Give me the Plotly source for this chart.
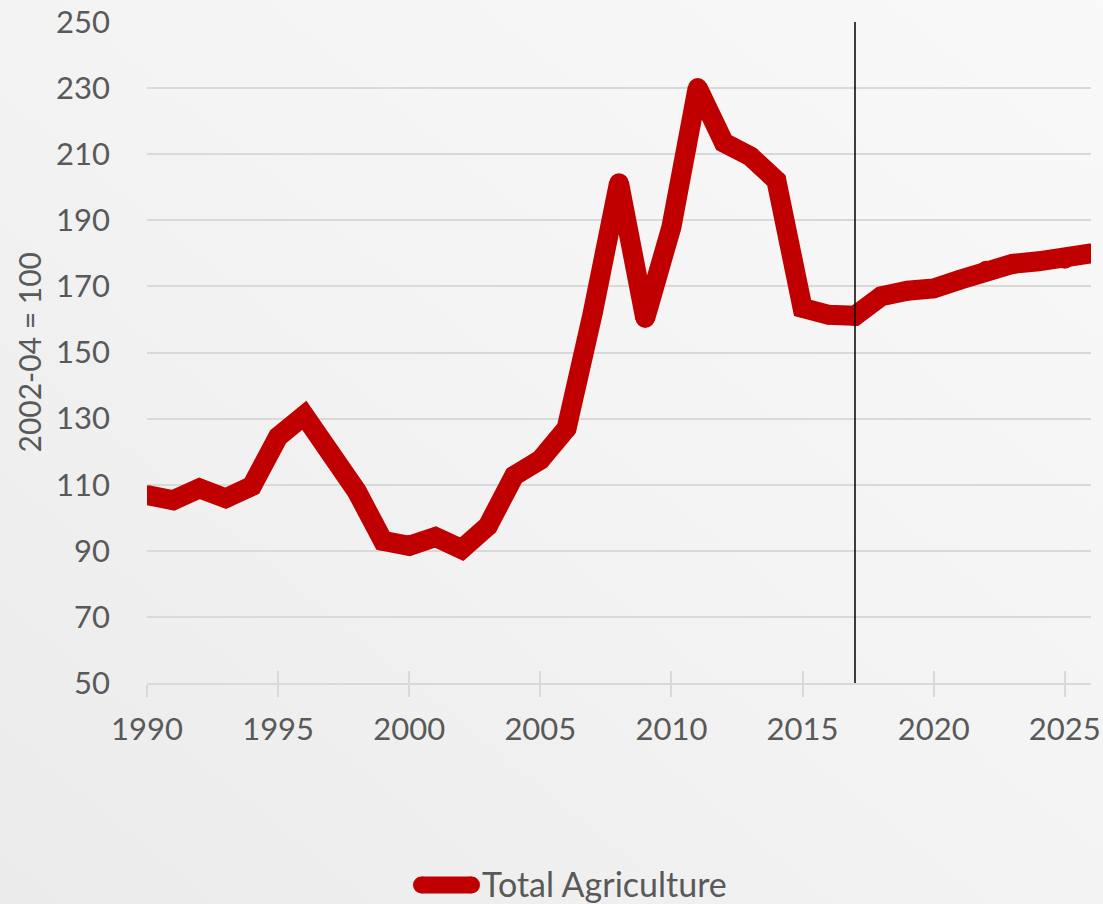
import plotly.graph_objects as go

years = list(range(1990, 2027))
total_agriculture = [106.9, 105.3, 108.9, 105.9, 109.6, 124.5, 131.0, 119.5, 108.0, 93.0,
                     91.5, 94.2, 90.5, 97.5, 112.7, 117.5, 127.0, 162.0, 201.3, 160.4,
                     188.0, 230.1, 213.5, 209.4, 202.1, 163.5, 161.4, 161.1, 167.0, 168.7,
                     169.4, 172.0, 174.8, 176.8, 177.6, 178.3, 180.0]
y_ticks = [50, 70, 90, 110, 130, 150, 170, 190, 210, 230, 250]
x_ticks = [1990, 1995, 2000, 2005, 2010, 2015, 2020, 2025]
projection_start = 2017
series_name = "Total Agriculture"
y_title = "2002-04 = 100"

FONT = "Lato"
TXT = "#595959"
GRID = "#d9d9d9"
RED = "#c00000"

W, H = 1103, 904
L, R, T, B = 147, 12, 22, 221
PW, PH = W - L - R, H - T - B


def px_x(px):
    return (px - L) / PW


def px_y(py):
    return (H - B - py) / PH


bg_svg = ("data:image/svg+xml;utf8,"
          "<svg xmlns='http://www.w3.org/2000/svg' width='1103' height='904'>"
          "<defs><linearGradient id='g' x1='1' y1='0' x2='0' y2='1'>"
          "<stop offset='0' stop-color='%23f9f9f9'/>"
          "<stop offset='0.5' stop-color='%23f3f3f3'/>"
          "<stop offset='1' stop-color='%23ebebeb'/>"
          "</linearGradient></defs>"
          "<rect width='1103' height='904' fill='url(%23g)'/></svg>")

fig = go.Figure()
fig.add_trace(go.Scatter(
    x=years, y=total_agriculture, mode="lines", name=series_name,
    line=dict(color=RED, width=20), showlegend=False,
))
# round joins
fig.add_trace(go.Scatter(
    x=years, y=total_agriculture, mode="markers", name=series_name,
    marker=dict(color=RED, size=19.5, line=dict(width=0)), showlegend=False,
    hoverinfo="skip",
))
fig.add_trace(go.Scatter(x=[None], y=[None], xaxis="x2", showlegend=False, hoverinfo="skip"))

fig.add_shape(type="line", xref="x", yref="paper",
              x0=projection_start, x1=projection_start, y0=0, y1=1,
              line=dict(color="#000000", width=1.5))

# legend sample (rounded thick line)
lx0, lx1, ly, lh = 413, 480, 885, 17
fig.add_shape(type="line", xref="paper", yref="paper",
              x0=px_x(lx0 + lh / 2), x1=px_x(lx1 - lh / 2), y0=px_y(ly), y1=px_y(ly),
              line=dict(color=RED, width=lh))
for cx in (lx0 + lh / 2, lx1 - lh / 2):
    fig.add_shape(type="circle", xref="paper", yref="paper",
                  x0=px_x(cx - lh / 2), x1=px_x(cx + lh / 2),
                  y0=px_y(ly + lh / 2), y1=px_y(ly - lh / 2),
                  line=dict(width=0), fillcolor=RED)
fig.add_annotation(text=series_name, xref="paper", yref="paper", x=px_x(480), y=px_y(ly - 1),
                   xanchor="left", yanchor="middle", showarrow=False,
                   font=dict(size=34, color=TXT, family=FONT))
fig.add_annotation(text=y_title, xref="paper", yref="paper", x=px_x(28), y=0.5,
                   xanchor="center", yanchor="middle", textangle=-90, showarrow=False,
                   font=dict(size=30, color=TXT, family=FONT))

fig.update_layout(
    width=W, height=H,
    margin=dict(l=L, r=R, t=T, b=B, autoexpand=False),
    paper_bgcolor="#f2f2f2",
    plot_bgcolor="rgba(0,0,0,0)",
    font=dict(family=FONT, color=TXT, size=31),
    showlegend=False,
    images=[dict(source=bg_svg, xref="paper", yref="paper", x=-L / PW, y=1 + T / PH,
                 sizex=W / PW, sizey=H / PH, xanchor="left", yanchor="top",
                 sizing="stretch", layer="below")],
    xaxis=dict(range=[1990, 2026], tickvals=x_ticks, showgrid=False,
               showline=True, linecolor=GRID, linewidth=1.5,
               ticks="outside", ticklen=12, tickcolor=GRID, tickwidth=1.5,
               tickfont=dict(size=31, color=TXT, family=FONT), zeroline=False,
               ticklabelstandoff=6, automargin=False),
    xaxis2=dict(range=[1990, 2026], tickvals=x_ticks, overlaying="x", side="bottom",
                showgrid=False, showline=False, ticks="inside", ticklen=12,
                tickcolor=GRID, tickwidth=1.5, showticklabels=False, zeroline=False,
                automargin=False),
    yaxis=dict(range=[50, 250], tickvals=y_ticks, showgrid=True, gridcolor=GRID,
               gridwidth=1.5, zeroline=False, showline=False,
               tickfont=dict(size=31, color=TXT, family=FONT),
               ticklabelstandoff=36, automargin=False),
)

fig.write_html("out.html")
